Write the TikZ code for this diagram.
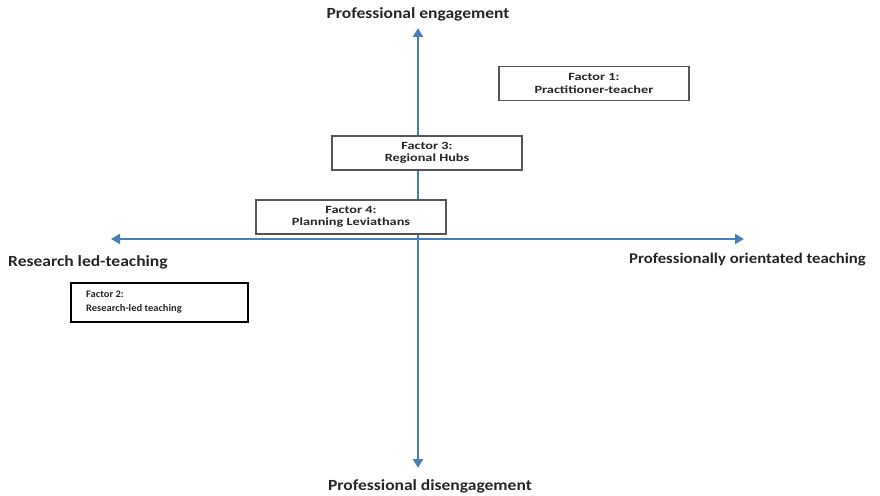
\documentclass[tikz,border=0pt]{standalone}
\usepackage{fontspec}
\setmainfont{Carlito}
\newfontfamily\axisfont[FakeStretch=1.13]{Carlito}
\newfontfamily\boxfont[FakeStretch=1.3]{Carlito}
\newfontfamily\smallboxfont[FakeStretch=1.05]{Carlito}
\usetikzlibrary{arrows.meta}
\definecolor{axisblue}{HTML}{4A7EBB}
\definecolor{boxgray}{HTML}{555555}
\tikzset{
  axis/.style={draw=axisblue, line width=2.6pt, -{Triangle[length=9pt,width=10pt]}},
  axislabel/.style={font=\axisfont\fontsize{15.5}{17}\selectfont\bfseries, text=black!85, inner sep=0pt},
  factor/.style={draw=boxgray, line width=1.2pt, fill=white, minimum width=190pt, minimum height=34pt,
    align=center, font=\boxfont\fontsize{11}{12.5}\selectfont\bfseries, text=black!85, inner sep=0pt},
  factorleft/.style={draw=black, line width=1.6pt, fill=white, minimum width=177pt, minimum height=39pt, inner sep=0pt},
  factorlefttext/.style={font=\smallboxfont\fontsize{10}{13.5}\selectfont\bfseries, text=black!85,
    align=left, anchor=west, inner sep=0pt}
}
\begin{document}
\begin{tikzpicture}[x=1pt,y=-1pt]
\useasboundingbox (0,0) rectangle (880,495);
% axes
\coordinate (ytop) at (418,28);
\coordinate (ybot) at (418,468);
\coordinate (xleft) at (111,239);
\coordinate (xright) at (744,239);
\coordinate (origin) at (418,239);
\draw[axis] (origin) -- (ytop);
\draw[axis] (origin) -- (ybot);
\draw[axis] (origin) -- (xleft);
\draw[axis] (origin) -- (xright);
% axis labels
\node[axislabel] (eng) at (418,14) {Professional engagement};
\node[axislabel] (dis) at (430,486) {Professional disengagement};
\node[axislabel, anchor=west] (rlt) at (8,262) {Research led-teaching};
\node[axislabel, anchor=east, font=\axisfont\fontsize{14.8}{17}\selectfont\bfseries] (pot) at (866,260) {Professionally orientated teaching};
% factor boxes
\node[factor] (f1) at (594,83.5) {Factor 1:\\Practitioner-teacher};
\node[factor] (f3) at (427,153) {Factor 3:\\Regional Hubs};
\node[factor] (f4) at (351,217) {Factor 4:\\Planning Leviathans};
\node[factorleft] (f2) at (159.5,302.5) {};
\node[factorlefttext] (f2text) at (86,302) {Factor 2:\\Research-led teaching};
\end{tikzpicture}
\end{document}
